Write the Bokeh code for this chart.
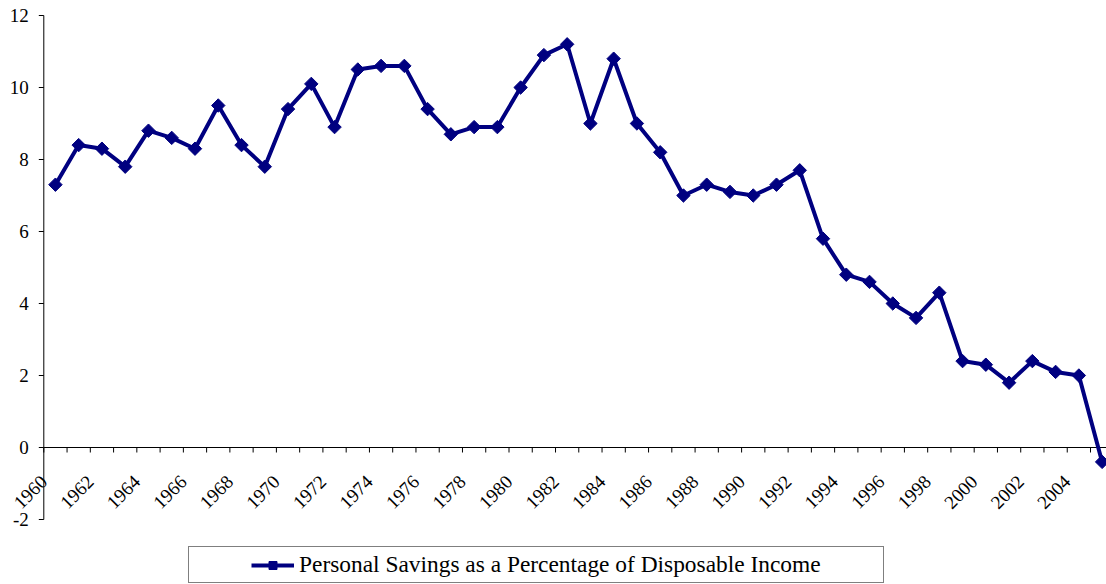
import math
from bokeh.plotting import figure
from bokeh.models import (Range1d, LabelSet, ColumnDataSource, Legend, LegendItem)
from bokeh.embed import file_html
from bokeh.resources import INLINE

# ---- data ----
years = list(range(1960, 2006))
savings = [7.3, 8.4, 8.3, 7.8, 8.8, 8.6, 8.3, 9.5, 8.4, 7.8,
           9.4, 10.1, 8.9, 10.5, 10.6, 10.6, 9.4, 8.7, 8.9, 8.9,
           10.0, 10.9, 11.2, 9.0, 10.8, 9.0, 8.2, 7.0, 7.3, 7.1,
           7.0, 7.3, 7.7, 5.8, 4.8, 4.6, 4.0, 3.6, 4.3, 2.4,
           2.3, 1.8, 2.4, 2.1, 2.0, -0.4]
label_years = [str(y) for y in range(1960, 2005, 2)]
y_ticks = [-2, 0, 2, 4, 6, 8, 10, 12]
y_tick_labels = ["-2", "0", "2", "4", "6", "8", "10", "12"]
series_name = "Personal Savings as a Percentage of Disposable Income"

NAVY = "#000080"
FONT = "Liberation Serif"

# ---- geometry (pixels) ----
W, H = 1106, 584
PX_X = 23.26                  # pixels per year
AXIS_X = 43.3                 # y axis position from figure left
Y_TOP_PX, Y_BOT_PX = 15, 519  # figure pixels of top / bottom y tick
px_y = (Y_BOT_PX - Y_TOP_PX) / (y_ticks[-1] - y_ticks[0])
XLABEL_DROP = 31              # px below the zero line for the year labels

x_axis_pos = years[0] - 0.5
x_start = x_axis_pos - AXIS_X / PX_X
x_end = x_start + W / PX_X
y_end = y_ticks[-1] + Y_TOP_PX / px_y
y_start = y_ticks[0] - (H - Y_BOT_PX) / px_y

p = figure(width=W, height=H, output_backend="svg", toolbar_location=None,
           x_range=Range1d(x_start, x_end), y_range=Range1d(y_start, y_end),
           x_axis_location=None, y_axis_location=None,
           min_border=0, min_border_left=0, min_border_right=0,
           min_border_top=0, min_border_bottom=0,
           background_fill_color="white", border_fill_color="white",
           outline_line_color=None)
p.grid.visible = False

# ---- y axis (drawn at the first category boundary) ----
p.segment(x0=[x_axis_pos], y0=[y_ticks[0]], x1=[x_axis_pos], y1=[y_ticks[-1]],
          line_color="black", line_width=1)
p.segment(x0=[x_axis_pos - 5 / PX_X] * len(y_ticks), y0=y_ticks,
          x1=[x_axis_pos] * len(y_ticks), y1=y_ticks,
          line_color="black", line_width=1)
ysrc = ColumnDataSource(dict(x=[x_axis_pos - 15 / PX_X] * len(y_ticks), y=y_ticks,
                             text=y_tick_labels))
p.add_layout(LabelSet(x="x", y="y", text="text", source=ysrc,
                      text_align="right", text_baseline="middle",
                      text_font=FONT, text_font_size="19px", text_color="black"))

# ---- x axis at zero ----
p.segment(x0=[x_axis_pos], y0=[0], x1=[x_end], y1=[0],
          line_color="black", line_width=1)
bounds = [y - 0.5 for y in years]
p.segment(x0=bounds, y0=[0] * len(bounds), x1=bounds,
          y1=[-5 / px_y] * len(bounds), line_color="black", line_width=1)
xsrc = ColumnDataSource(dict(x=[int(s) - 0.5 for s in label_years],
                             y=[-XLABEL_DROP / px_y] * len(label_years),
                             text=label_years))
p.add_layout(LabelSet(x="x", y="y", text="text", source=xsrc,
                      angle=math.pi / 4, text_align="right", text_baseline="middle",
                      text_font=FONT, text_font_size="19px", text_color="black"))

# ---- series ----
lr = p.line(years, savings, line_color=NAVY, line_width=4)
sr = p.scatter(years, savings, marker="square", angle=math.pi / 4, size=9.5,
               fill_color=NAVY, line_color=NAVY)

legend = Legend(items=[LegendItem(label="", renderers=[]),
                       LegendItem(label=series_name, renderers=[lr, sr]),
                       LegendItem(label="", renderers=[])],
                orientation="horizontal", location=(188, 1),
                glyph_width=43, glyph_height=20, label_standoff=5, spacing=10,
                padding=4, label_width=0, label_height=20, margin=0,
                border_line_color="black", border_line_width=1,
                label_text_font=FONT, label_text_font_size="23.4px",
                label_text_color="black", background_fill_color="white")
p.add_layout(legend, "center")

open("out.html", "w").write(file_html(p, INLINE))
